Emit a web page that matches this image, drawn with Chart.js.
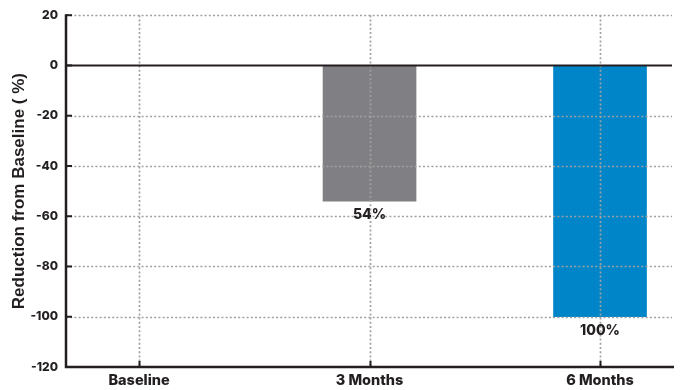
<!DOCTYPE html>
<html>
<head>
<meta charset="utf-8">
<script src="https://cdn.jsdelivr.net/npm/chart.js@4/dist/chart.umd.min.js"></script>
<style>
  html, body { margin: 0; padding: 0; background: #fff; }
  #wrap { width: 681px; height: 390px; position: relative; }
</style>
</head>
<body>
<div id="wrap"><canvas id="c"></canvas></div>
<script>
// Chart data
const categories = ['Baseline', '3 Months', '6 Months'];
const reduction = [0, -54, -100];
const valueLabels = ['', '54%', '100%'];
const barColors = ['#808084', '#808084', '#0085C8'];
const yTicks = [20, 0, -20, -40, -60, -80, -100, -120];
const yTitle = 'Reduction from Baseline ( %)';

const INK = '#231f20';
const GRID = '#a0a0a0';
const FACE = 'Inter, Roboto, "Liberation Sans", sans-serif';
const tickFont = { family: FACE, weight: '800', size: 12 };
const catFont = { family: FACE, weight: '800', size: 14.5 };

// Dotted grid, zero line, axis lines and inward tick marks, drawn over the bars
const gridOverlay = {
  id: 'gridOverlay',
  afterDatasetsDraw(chart) {
    const { ctx, chartArea: a, scales: { x, y } } = chart;
    ctx.save();
    ctx.strokeStyle = GRID;
    ctx.lineWidth = 1.7;
    ctx.setLineDash([2, 2.2]);
    yTicks.forEach(v => {
      if (v === 0 || v === -120) return;
      const py = Math.round(y.getPixelForValue(v)) + 0.5;
      ctx.beginPath(); ctx.moveTo(a.left, py); ctx.lineTo(a.right - 2, py); ctx.stroke();
    });
    categories.forEach((c, i) => {
      const px = Math.round(x.getPixelForValue(i)) + 0.5;
      ctx.beginPath(); ctx.moveTo(px, a.top); ctx.lineTo(px, a.bottom); ctx.stroke();
    });
    ctx.setLineDash([]);
    ctx.strokeStyle = INK;
    // zero line
    ctx.lineWidth = 2;
    const y0 = y.getPixelForValue(0);
    ctx.beginPath(); ctx.moveTo(a.left, y0); ctx.lineTo(a.right - 2, y0); ctx.stroke();
    // inward tick marks
    yTicks.forEach(v => {
      const py = y.getPixelForValue(v);
      ctx.beginPath(); ctx.moveTo(a.left, py); ctx.lineTo(a.left + 6, py); ctx.stroke();
    });
    categories.forEach((c, i) => {
      const px = Math.round(x.getPixelForValue(i)) + 0.5;
      ctx.beginPath(); ctx.moveTo(px, a.bottom); ctx.lineTo(px, a.bottom - 6); ctx.stroke();
    });
    // axis lines
    ctx.lineWidth = 2.5;
    ctx.beginPath();
    ctx.moveTo(a.left, a.top - 1);
    ctx.lineTo(a.left, a.bottom);
    ctx.lineTo(a.right, a.bottom);
    ctx.stroke();
    // value labels under the bars
    ctx.fillStyle = INK;
    ctx.font = '800 14px ' + FACE;
    ctx.textAlign = 'center';
    ctx.textBaseline = 'middle';
    reduction.forEach((v, i) => {
      if (!valueLabels[i]) return;
      ctx.fillText(valueLabels[i], x.getPixelForValue(i), y.getPixelForValue(v) + 14);
    });
    ctx.restore();
  }
};

new Chart(document.getElementById('c'), {
  type: 'bar',
  data: {
    datasets: [{
      data: reduction.map((v, i) => ({ x: i, y: v })),
      backgroundColor: barColors,
      borderWidth: 0,
      barThickness: 93
    }]
  },
  options: {
    responsive: true,
    maintainAspectRatio: false,
    animation: false,
    events: [],
    layout: { padding: { top: 13, right: 7, left: 0, bottom: 0 } },
    plugins: { legend: { display: false }, tooltip: { enabled: false } },
    scales: {
      x: {
        type: 'linear',
        offset: false,
        min: -0.317,
        max: 2.321,
        afterBuildTicks(s) { s.ticks = categories.map((c, i) => ({ value: i })); },
        afterFit(s) { s.height = 23; },
        grid: { display: false, drawTicks: false, offset: false },
        border: { display: false },
        ticks: {
          callback: v => categories[v] ?? '',
          color: INK,
          font: catFont,
          padding: 5,
          maxRotation: 0,
          autoSkip: false
        }
      },
      y: {
        min: -120,
        max: 20,
        afterBuildTicks(s) { s.ticks = yTicks.map(v => ({ value: v })); },
        afterFit(s) { s.width = 66; },
        grid: { display: false, drawTicks: false },
        border: { display: false },
        ticks: { color: INK, font: tickFont, padding: 8 },
        title: {
          display: true,
          text: yTitle,
          color: INK,
          font: { family: '"Liberation Sans", Arial, sans-serif', weight: 'bold', size: 17 },
          padding: { top: 9, bottom: 0 }
        }
      }
    }
  },
  plugins: [gridOverlay]
});
</script>
</body>
</html>
